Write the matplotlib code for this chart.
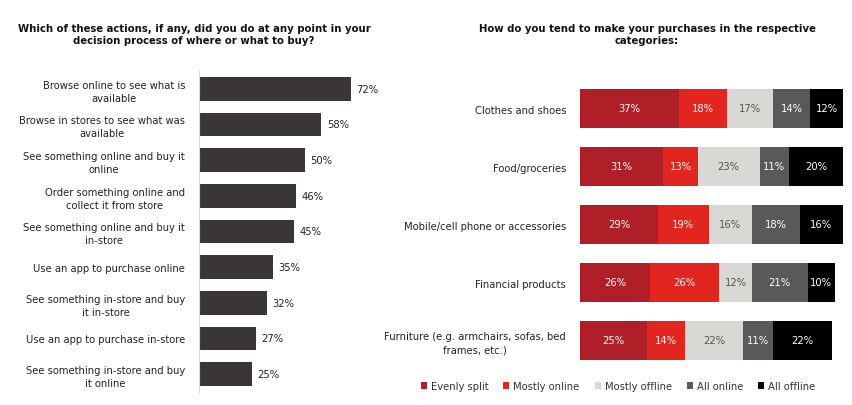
import matplotlib
matplotlib.use("Agg")
import matplotlib.pyplot as plt
from matplotlib.patches import Patch

# left chart data
actions = [
    "Browse online to see what is\navailable",
    "Browse in stores to see what was\navailable",
    "See something online and buy it\nonline",
    "Order something online and\ncollect it from store",
    "See something online and buy it\nin-store",
    "Use an app to purchase online",
    "See something in-store and buy\nit in-store",
    "Use an app to purchase in-store",
    "See something in-store and buy\nit online",
]
action_pct = [72, 58, 50, 46, 45, 35, 32, 27, 25]

# right chart data
categories = [
    "Clothes and shoes",
    "Food/groceries",
    "Mobile/cell phone or accessories",
    "Financial products",
    "Furniture (e.g. armchairs, sofas, bed\nframes, etc.)",
]
series_names = ["Evenly split", "Mostly online", "Mostly offline", "All online", "All offline"]
evenly_split = [37, 31, 29, 26, 25]
mostly_online = [18, 13, 19, 26, 14]
mostly_offline = [17, 23, 16, 12, 22]
all_online = [14, 11, 18, 21, 11]
all_offline = [12, 20, 16, 10, 22]

series = [evenly_split, mostly_online, mostly_offline, all_online, all_offline]
colors = ["#B01F28", "#E2261F", "#D9D8D4", "#58595B", "#000000"]
text_colors = ["white", "white", "#555555", "white", "white"]

W, H = 852, 406
fig = plt.figure(figsize=(W / 100, H / 100), dpi=100)
fs = 7.2

# ---- left chart
ax1 = fig.add_axes([199 / W, 1 - 393 / H, 221 / W, 321 / H])
ypos = list(range(len(actions)))
ax1.barh(ypos, action_pct, height=0.67, color="#3A3636")
for y, v in zip(ypos, action_pct):
    ax1.text(v + 2.6, y, f"{v}%", va="center", ha="left", fontsize=fs, color="#222222")
ax1.set_xlim(0, 221 / 2.11)
ax1.set_ylim(len(actions) - 0.5, -0.5)
ax1.set_yticks(ypos)
ax1.set_yticklabels(actions, fontsize=fs, color="#222222", linespacing=1.35,
                    multialignment="center")
ax1.tick_params(axis="y", length=0, pad=10)
ax1.set_xticks([])
for s in ["top", "right", "bottom"]:
    ax1.spines[s].set_visible(False)
ax1.spines["left"].set_color("#D9D9D9")

fig.text(194 / W, 1 - 35 / H,
         "Which of these actions, if any, did you do at any point in your\n"
         "decision process of where or what to buy?",
         ha="center", va="center", fontsize=7.3, fontweight="bold", color="#111111",
         linespacing=1.25)

# ---- right chart
ax2 = fig.add_axes([580 / W, 1 - 370.5 / H, 268 / W, 290 / H])
cpos = list(range(len(categories)))
left = [0] * len(categories)
for vals, col, tcol, name in zip(series, colors, text_colors, series_names):
    ax2.barh(cpos, vals, left=left, height=0.67, color=col, label=name)
    for y, l, v in zip(cpos, left, vals):
        ax2.text(l + v / 2, y, f"{v}%", ha="center", va="center", fontsize=fs, color=tcol)
    left = [a + b for a, b in zip(left, vals)]
ax2.set_xlim(0, 100)
ax2.set_ylim(len(categories) - 0.5, -0.5)
ax2.set_yticks(cpos)
ax2.set_yticklabels(categories, fontsize=fs, color="#222222", linespacing=1.35,
                    multialignment="center")
ax2.tick_params(axis="y", length=0, pad=10)
ax2.set_xticks([])
for s in ax2.spines.values():
    s.set_visible(False)

fig.text(647 / W, 1 - 35 / H,
         "How do you tend to make your purchases in the respective\ncategories:",
         ha="center", va="center", fontsize=7.3, fontweight="bold", color="#111111",
         linespacing=1.25)

handles = [Patch(facecolor=c, edgecolor="none") for c in colors]
fig.legend(handles, series_names, loc="center", bbox_to_anchor=(618 / W, 1 - 387 / H),
           ncol=5, frameon=False, fontsize=fs, handlelength=0.6, handleheight=0.6,
           handletextpad=0.4, columnspacing=1.5, labelcolor="#333333")

fig.savefig("out.png", dpi=100)
